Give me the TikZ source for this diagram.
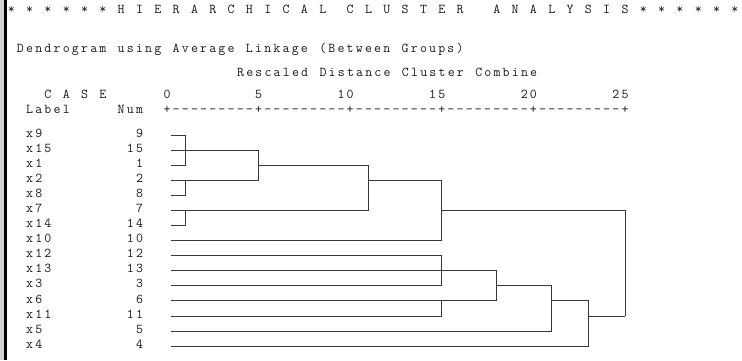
\documentclass[tikz,border=0pt]{standalone}
\usepackage{fontspec}
\newlength\cellw
\setlength\cellw{9.16pt}
\def\mytt#1{\myttloop#1\relax}
\def\myttloop#1{\ifx#1\relax\else\hbox to\cellw{\hss#1\hss}\expandafter\myttloop\fi}
\definecolor{strip}{RGB}{212,210,206}
\begin{document}
\begin{tikzpicture}[x=1pt,y=-1pt,
  txt/.style={inner sep=0pt,outer sep=0pt,anchor=mid west,text=black!90,
    font=\fontsize{13.5}{14}\selectfont\ttfamily},
  dl/.style={draw=black!78,line width=0.9pt,line cap=rect}]
\useasboundingbox[fill=white] (0,0) rectangle (742,360);
\fill[strip] (0,0) rectangle (4,360);
\fill[black] (4,0) rectangle (6.8,360);
% text lines (monospace grid, col c left edge = 6.72 + 9.16 c)
\node[txt] (hdr) at (6.72,11) {\mytt{*~*~*~*~*~*~H~I~E~R~A~R~C~H~I~C~A~L~~C~L~U~S~T~E~R~~~A~N~A~L~Y~S~I~S~*~*~*~*~*~*}};
\node[txt] (dendro) at (15.88,50) {\mytt{Dendrogram~using~Average~Linkage~(Between~Groups)}};
\node[txt] (resc) at (236.0,74) {\mytt{Rescaled~Distance~Cluster~Combine}};
\node[txt] (case) at (43.36,96) {\mytt{C~A~S~E~~~~~~0~~~~~~~~~5~~~~~~~~10~~~~~~~~15~~~~~~~~20~~~~~~~~25}};
\node[txt] (labhead) at (25.04,111) {\mytt{Label~~~~~Num~~+---------+---------+---------+---------+---------+}};
% merge columns
\coordinate (k19) at (185.3,0);
\coordinate (k27) at (258.6,0);
\coordinate (k39) at (368.5,0);
\coordinate (k47) at (441.8,0);
\coordinate (k53) at (496.8,0);
\coordinate (k59) at (551.7,0);
\coordinate (k63) at (588.4,0);
\coordinate (k67) at (625.0,0);
% cases
\foreach \n [count=\i] in {9,15,1,2,8,7,14,10,12,13,3,6,11,5,4}{
  \pgfmathsetmacro\yy{135+15.08*(\i-1)}
  \node[txt] (lab\i) at (25.04,\yy) {\expandafter\mytt\expandafter{\expandafter x\n}};
  \node[txt,anchor=mid east] (num\i) at (144.12,\yy) {\expandafter\mytt\expandafter{\n}};
  \coordinate (s\i) at (171.6,\yy);
}
% leaf lines
\foreach \i/\c in {1/19,2/27,3/19,4/27,5/19,6/39,7/19,8/47,9/47,10/53,11/47,12/53,13/47,14/59,15/63}
  \draw[dl] (s\i) -- (s\i -| k\c);
% vertical joins
\foreach \c/\a/\b in {19/1/3,19/4/5,19/6/7,27/2/4,39/3/6,47/4/8,47/9/11,47/12/13,53/10/12,59/11/14,63/12/15,67/6/13}
  \draw[dl] (s\a -| k\c) -- (s\b -| k\c);
% cluster lines
\foreach \r/\a/\b in {3/27/39,4/39/47,6/47/67,11/53/59,12/59/63,13/63/67}
  \draw[dl] (s\r -| k\a) -- (s\r -| k\b);
\end{tikzpicture}
\end{document}
